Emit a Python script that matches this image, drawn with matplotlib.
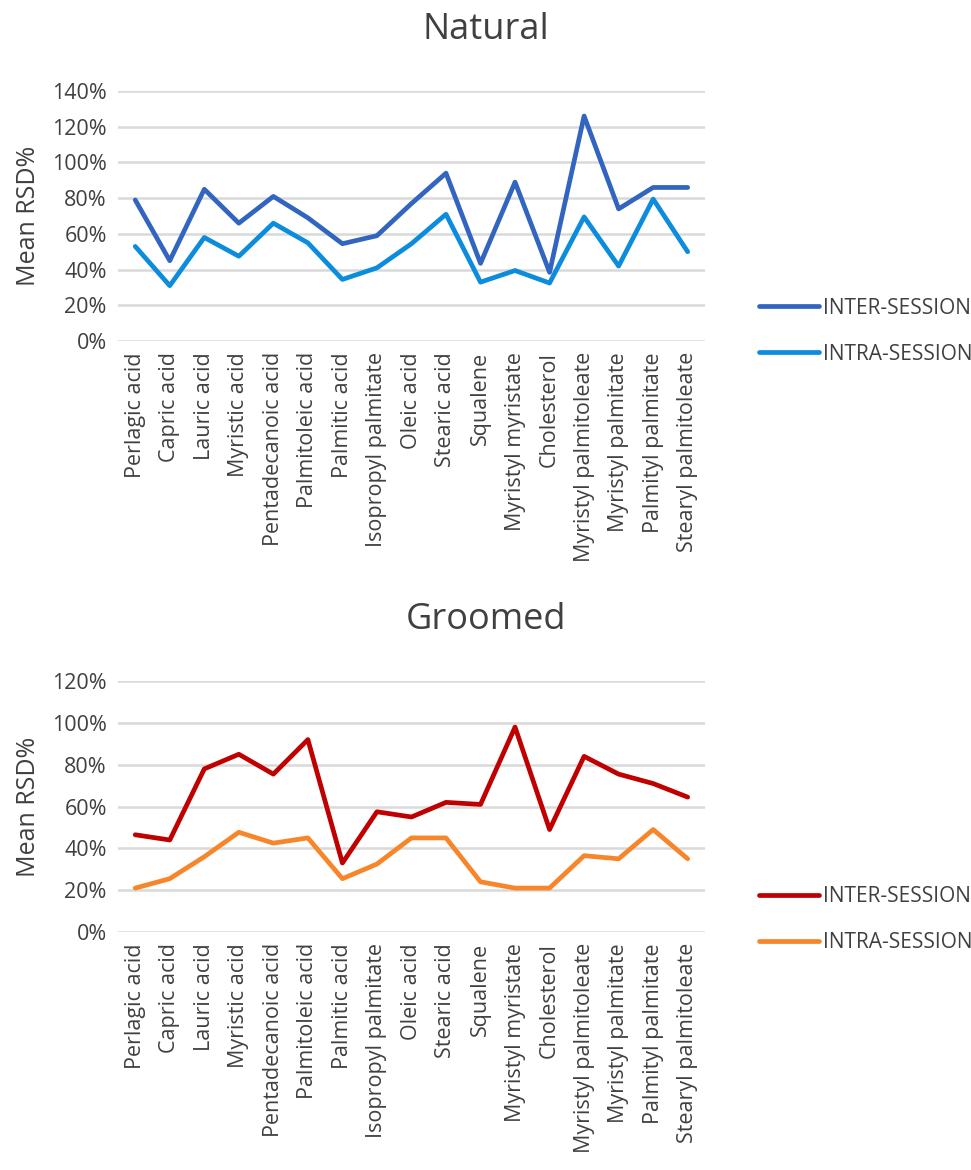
import matplotlib
matplotlib.use("Agg")
import matplotlib.pyplot as plt
from matplotlib.ticker import FuncFormatter

plt.rcParams["font.family"] = ["Open Sans", "DejaVu Sans"]

COMPOUNDS = [
    "Perlagic acid", "Capric acid", "Lauric acid", "Myristic acid",
    "Pentadecanoic acid", "Palmitoleic acid", "Palmitic acid",
    "Isopropyl palmitate", "Oleic acid", "Stearic acid", "Squalene",
    "Myristyl myristate", "Cholesterol", "Myristyl palmitoleate",
    "Myristyl palmitate", "Palmityl palmitate", "Stearyl palmitoleate",
]

# Mean RSD% (as fractions)
natural_inter = [0.79, 0.45, 0.85, 0.66, 0.81, 0.69, 0.545, 0.59, 0.77, 0.94,
                 0.435, 0.89, 0.385, 1.26, 0.74, 0.86, 0.86]
natural_intra = [0.53, 0.31, 0.58, 0.475, 0.66, 0.55, 0.345, 0.41, 0.545, 0.71,
                 0.33, 0.395, 0.325, 0.695, 0.42, 0.795, 0.50]
groomed_inter = [0.465, 0.44, 0.78, 0.85, 0.755, 0.92, 0.33, 0.575, 0.55, 0.62,
                 0.61, 0.98, 0.49, 0.84, 0.755, 0.71, 0.645]
groomed_intra = [0.21, 0.255, 0.36, 0.477, 0.425, 0.45, 0.255, 0.325, 0.45, 0.45,
                 0.24, 0.21, 0.21, 0.365, 0.35, 0.49, 0.35]

PANELS = [
    {"title": "Natural", "inter": natural_inter, "intra": natural_intra,
     "colors": ("#3265BF", "#0C8CDD"), "ymax": 1.4, "title_y": 0.974,
     "rect": [0.1215, 0.7085, 0.6045, 0.2137], "legend_y": 0.717},
    {"title": "Groomed", "inter": groomed_inter, "intra": groomed_intra,
     "colors": ("#C00000", "#F7862A"), "ymax": 1.2, "title_y": 0.470,
     "rect": [0.1215, 0.2034, 0.6045, 0.2145], "legend_y": 0.2137},
]

TEXT = "#404040"
GRID = "#D9D9D9"
TICK_SIZE = 15.5

fig = plt.figure(figsize=(9.71, 11.70), dpi=100, facecolor="white")

for panel in PANELS:
    ax = fig.add_axes(panel["rect"])
    x = list(range(len(COMPOUNDS)))
    inter_c, intra_c = panel["colors"]
    l1, = ax.plot(x, panel["inter"], color=inter_c, linewidth=3.4,
                  solid_joinstyle="round", solid_capstyle="round", label="INTER-SESSION")
    l2, = ax.plot(x, panel["intra"], color=intra_c, linewidth=3.4,
                  solid_joinstyle="round", solid_capstyle="round", label="INTRA-SESSION")

    ax.set_xlim(-0.5, len(COMPOUNDS) - 0.5)
    ax.set_ylim(0, panel["ymax"])
    ax.set_yticks([i * 0.2 for i in range(int(round(panel["ymax"] / 0.2)) + 1)])
    ax.yaxis.set_major_formatter(FuncFormatter(lambda v, _: f"{v * 100:.0f}%"))
    ax.grid(axis="y", color=GRID, linewidth=1.8, zorder=0)
    ax.set_axisbelow(True)
    for s in ax.spines.values():
        s.set_visible(False)
    ax.set_xticks(x)
    ax.set_xticklabels(COMPOUNDS, rotation=90, fontsize=TICK_SIZE, color=TEXT)
    ax.tick_params(axis="both", length=0, colors=TEXT, labelsize=TICK_SIZE)
    ax.tick_params(axis="y", pad=8)
    ax.tick_params(axis="x", pad=8)
    ax.set_ylabel("Mean RSD%", fontsize=18, color=TEXT, labelpad=8)
    fig.text(0.5, panel["title_y"], panel["title"], fontsize=26, color=TEXT,
             ha="center", va="center")

    fig.legend(handles=[l1, l2], loc="center left",
               bbox_to_anchor=(0.762, panel["legend_y"]), frameon=False,
               fontsize=15, labelcolor=TEXT, handlelength=2.9,
               handletextpad=0.2, labelspacing=1.2)

fig.savefig("out.png", dpi=100, facecolor="white")
